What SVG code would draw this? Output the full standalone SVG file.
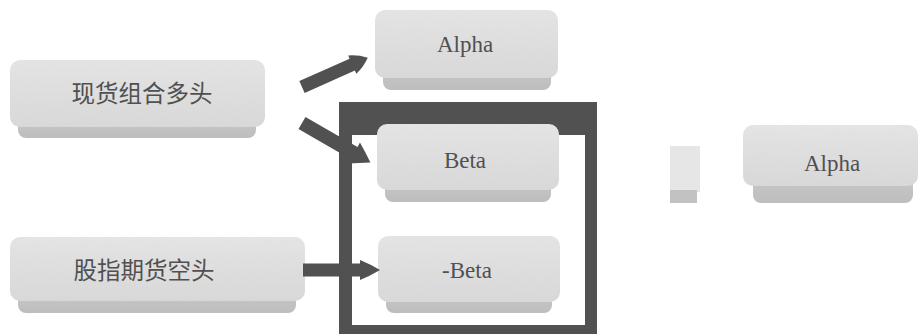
<svg xmlns="http://www.w3.org/2000/svg" width="923" height="334" viewBox="0 0 923 334">
<defs>
<linearGradient id="face" x1="0" y1="0" x2="0" y2="1">
<stop offset="0" stop-color="#e6e6e6"/>
<stop offset="1" stop-color="#dadada"/>
</linearGradient>
<linearGradient id="side" x1="0" y1="0" x2="0" y2="1">
<stop offset="0" stop-color="#cbcbcb"/>
<stop offset="1" stop-color="#bdbdbd"/>
</linearGradient>
<filter id="grain" x="0" y="0" width="100%" height="100%">
<feTurbulence type="fractalNoise" baseFrequency="0.9" numOctaves="1" seed="3" result="n"/>
<feColorMatrix in="n" type="matrix" values="0 0 0 0 0.5  0 0 0 0 0.5  0 0 0 0 0.5  0 0 0 0.12 0" result="g"/>
<feComposite in="g" in2="SourceGraphic" operator="in" result="gi"/>
<feMerge><feMergeNode in="SourceGraphic"/><feMergeNode in="gi"/></feMerge>
</filter>
</defs>
<style>
.face{fill:url(#face);filter:url(#grain)}
.side{fill:url(#side)}
.cn{font-family:"Noto Sans CJK SC","Noto Sans CJK TC",sans-serif;font-size:23.5px;fill:#505050;text-anchor:middle}
.en{font-family:"Liberation Serif",serif;font-size:23px;fill:#505050;text-anchor:middle}
.dark{fill:#515151}
</style>

<g id="frame">
<path class="dark" fill-rule="evenodd" d="M339,102 H597 V334 H339 Z M352,135 H585 V325 H352 Z"/>
</g>

<g id="node-spot">
<rect class="side" x="18" y="112" width="238" height="26" rx="8"/>
<rect class="face" x="10" y="60" width="255" height="67" rx="10"/>
<text class="cn" x="142" y="102">现货组合多头</text>
</g>

<g id="node-futures">
<rect class="side" x="18" y="286" width="278" height="27" rx="8"/>
<rect class="face" x="10" y="237" width="295" height="64" rx="10"/>
<text class="cn" x="144" y="279">股指期货空头</text>
</g>

<g id="node-alpha-top">
<rect class="side" x="383" y="62" width="168" height="28" rx="8"/>
<rect class="face" x="375" y="10" width="183" height="68" rx="10"/>
<text class="en" x="465" y="52">Alpha</text>
</g>

<g id="node-beta">
<rect class="side" x="385" y="174" width="166" height="28" rx="8"/>
<rect class="face" x="377" y="124" width="182" height="66" rx="10"/>
<text class="en" x="465" y="168">Beta</text>
</g>

<g id="node-negbeta">
<rect class="side" x="386" y="286" width="166" height="27" rx="8"/>
<rect class="face" x="378" y="236" width="182" height="66" rx="10"/>
<text class="en" x="467" y="278">-Beta</text>
</g>

<g id="node-alpha-right">
<rect class="side" x="753" y="170" width="160" height="33" rx="8"/>
<rect class="face" x="743" y="125" width="175" height="61" rx="10"/>
<text class="en" x="832" y="171">Alpha</text>
</g>

<g id="connectors">
<path class="dark" transform="translate(302,87) rotate(-24)" d="M0,-6.5 L55,-6.5 L55,-10 Q64,-7 72,0 Q64,7 55,10 L55,6.5 L0,6.5 Z"/>
<path class="dark" transform="translate(302,123) rotate(30)" d="M0,-7 L60,-7 L60,-12 Q70,-6 79,0 Q70,6 60,12 L60,7 L0,7 Z"/>
<path class="dark" d="M303,263.5 L360,263.5 L360,260 Q370,264 380,270 Q370,276 360,280 L360,276.5 L303,276.5 Z"/>
<g id="faded-arrow">
<rect x="670" y="146" width="30" height="46" fill="#e6e6e6"/>
<rect x="670" y="190" width="27" height="13" fill="#c2c2c2"/>
</g>
</g>
</svg>
